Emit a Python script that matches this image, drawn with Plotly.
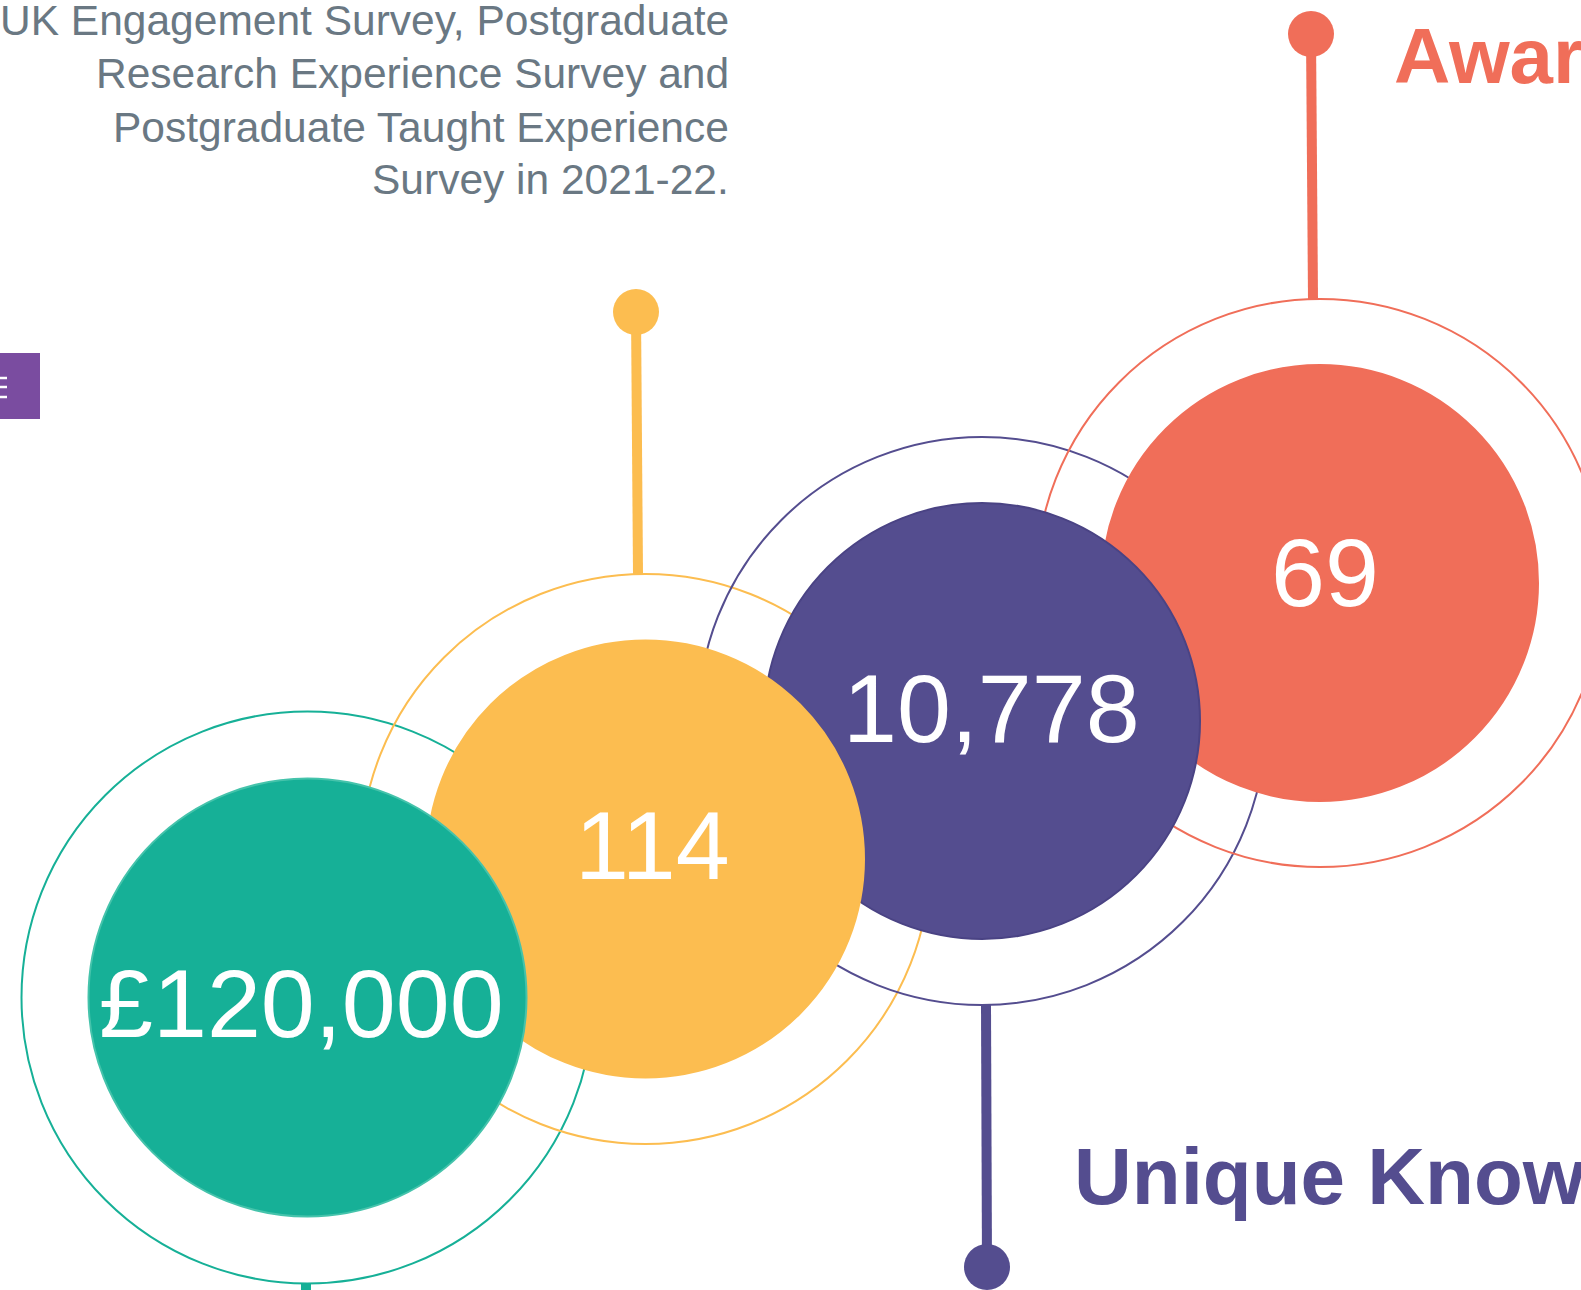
import plotly.graph_objects as go

# ---- data ----
labels = ["£120,000", "114", "10,778", "69"]
colors = ["#16b097", "#fcbd50", "#544d8f", "#f06e59"]
edge_colors = ["#45c3ab", "#fcbd50", "#4a4384", "#f06e59"]
# circle geometry (pixel coordinates on the canvas axes)
centers_x = [307.5, 645.5, 982, 1320]
centers_y = [997.5, 859, 721, 583]
fill_r = [219, 218.5, 218, 218]
ring_r = [286, 285, 284, 284]
label_x = [301, 652, 991, 1325]
label_y = [1003, 845, 708, 572]

# stems: (x0, y0, x1, y1, dot_x, dot_y)
stems = [
    (306, 1283, 306, 1300, None, None),
    (636, 312, 638, 574, 636, 312),
    (986, 1005, 987, 1267, 987, 1267),
    (1311, 34, 1313, 299, 1311, 34),
]
dot_r = 23

intro_lines = [
    "UK Engagement Survey, Postgraduate",
    "Research Experience Survey and",
    "Postgraduate Taught Experience",
    "Survey in 2021-22.",
]
intro_baselines = [35, 88, 142, 194]

headings = ["Awards", "Unique Knowledge"]
heading_x = [1393, 1073]
heading_baseline = [83, 1204]
heading_colors = ["#f06e59", "#544d8f"]
heading_size = [78, 80]

W, H = 1581, 1290
fig = go.Figure()
fig.add_trace(go.Scatter(x=[0, W], y=[0, H], mode="markers",
                         marker=dict(opacity=0), hoverinfo="skip", showlegend=False))

shapes = []
# stems and dots
for i, (x0, y0, x1, y1, dx, dy) in enumerate(stems):
    shapes.append(dict(type="line", xref="x", yref="y", x0=x0, y0=y0, x1=x1, y1=y1,
                       line=dict(color=colors[i], width=10)))
    if dx is not None:
        shapes.append(dict(type="circle", xref="x", yref="y",
                           x0=dx - dot_r, x1=dx + dot_r, y0=dy - dot_r, y1=dy + dot_r,
                           fillcolor=colors[i], line=dict(width=0)))
# rings (behind all fills)
for i in range(4):
    cx, cy, r = centers_x[i], centers_y[i], ring_r[i]
    shapes.append(dict(type="circle", xref="x", yref="y",
                       x0=cx - r, x1=cx + r, y0=cy - r, y1=cy + r,
                       line=dict(color=colors[i], width=2)))
# fills, coral first, teal last (on top)
for i in [3, 2, 1, 0]:
    cx, cy, r = centers_x[i], centers_y[i], fill_r[i]
    shapes.append(dict(type="circle", xref="x", yref="y",
                       x0=cx - r, x1=cx + r, y0=cy - r, y1=cy + r,
                       fillcolor=colors[i], line=dict(color=edge_colors[i], width=2)))
# purple tab at left
shapes.append(dict(type="rect", xref="x", yref="y", x0=-5, x1=40, y0=353, y1=419,
                   fillcolor="#7a4ca0", line=dict(width=0)))
for yy in [378, 387, 397]:
    shapes.append(dict(type="line", xref="x", yref="y", x0=0, x1=7, y0=yy, y1=yy,
                       line=dict(color="white", width=2.5)))

annotations = []
for i in range(4):
    annotations.append(dict(x=label_x[i], y=label_y[i], xref="x", yref="y",
                            text=labels[i], showarrow=False, xanchor="center", yanchor="middle",
                            font=dict(family="Liberation Sans, Arial", size=97, color="white")))
for t, b in zip(intro_lines, intro_baselines):
    annotations.append(dict(x=730, y=b - 14.8, xref="x", yref="y", text=t, showarrow=False,
                            xanchor="right", yanchor="middle", borderpad=0,
                            font=dict(family="Liberation Sans, Arial", size=42.5, color="#6a7883")))
for t, x, b, c, s in zip(headings, heading_x, heading_baseline, heading_colors, heading_size):
    annotations.append(dict(x=x, y=b - 0.3465 * s, xref="x", yref="y", text="<b>" + t + "</b>",
                            showarrow=False, xanchor="left", yanchor="middle", borderpad=0,
                            font=dict(family="Liberation Sans, Arial", size=s, color=c)))

fig.update_layout(
    width=W, height=H, margin=dict(l=0, r=0, t=0, b=0),
    paper_bgcolor="white", plot_bgcolor="white",
    xaxis=dict(range=[0, W], visible=False, fixedrange=True),
    yaxis=dict(range=[H, 0], visible=False, fixedrange=True),
    shapes=shapes, annotations=annotations, showlegend=False,
)
fig.write_html("out.html", config={"displayModeBar": False},
               post_script="document.body.style.margin='0';document.body.style.overflow='hidden';")
